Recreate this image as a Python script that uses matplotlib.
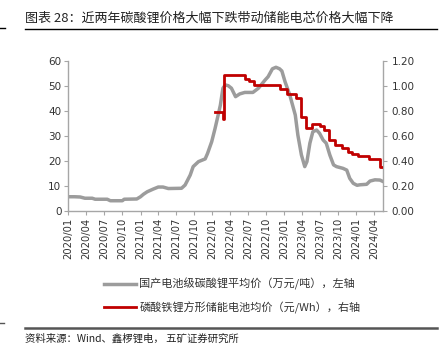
import matplotlib
matplotlib.use("Agg")
import matplotlib.pyplot as plt
from matplotlib.lines import Line2D
import pandas as pd

plt.rcParams['font.family'] = ['Noto Sans CJK SC', 'DejaVu Sans']

# 国产电池级碳酸锂平均价（万元/吨）
li_dates = ['2020-01-01', '2020-02-01', '2020-03-01', '2020-03-25', '2020-05-01', '2020-05-16',
            '2020-07-16', '2020-08-01', '2020-10-01', '2020-10-10', '2020-12-13', '2021-01-01',
            '2021-01-16', '2021-02-04', '2021-03-07', '2021-04-01', '2021-04-25', '2021-05-22',
            '2021-07-28', '2021-08-15', '2021-09-10', '2021-09-25', '2021-10-22', '2021-11-25',
            '2021-12-07', '2021-12-28', '2022-01-14', '2022-01-28', '2022-02-10', '2022-02-23',
            '2022-03-07', '2022-03-22', '2022-04-07', '2022-04-28', '2022-05-19', '2022-06-14',
            '2022-07-25', '2022-08-22', '2022-09-25', '2022-10-10', '2022-11-01', '2022-11-19',
            '2022-12-07', '2022-12-19', '2023-01-04', '2023-01-28', '2023-02-25', '2023-03-10',
            '2023-03-28', '2023-04-14', '2023-04-25', '2023-05-10', '2023-05-25', '2023-06-13',
            '2023-06-28', '2023-07-16', '2023-08-01', '2023-08-19', '2023-09-07', '2023-09-22',
            '2023-10-25', '2023-11-13', '2023-11-28', '2023-12-16', '2024-01-04', '2024-01-19',
            '2024-02-22', '2024-03-10', '2024-04-04', '2024-04-29', '2024-05-10']
li_price = [5.6, 5.6, 5.5, 5.0, 5.0, 4.6,
            4.6, 4.0, 4.0, 4.6, 4.7, 5.6,
            6.6, 7.6, 8.7, 9.5, 9.5, 8.9,
            9.0, 10.3, 14.3, 17.7, 19.7, 20.8,
            23.0, 27.7, 33.0, 37.8, 42.4, 49.2,
            50.5, 50.2, 49.2, 45.8, 46.9, 47.5,
            47.5, 49.2, 52.5, 53.8, 57.0, 57.6,
            57.0, 56.1, 51.8, 46.5, 38.4, 30.4,
            22.4, 17.7, 19.7, 27.1, 31.7, 32.4,
            31.1, 28.4, 27.1, 22.4, 18.4, 17.7,
            17.0, 16.3, 13.0, 11.0, 10.2, 10.4,
            10.6, 11.9, 12.4, 12.3, 11.9]

# 磷酸铁锂方形储能电池均价（元/Wh）
cell_dates = ['2022-01-13', '2022-02-23', '2022-03-01', '2022-06-13', '2022-07-04', '2022-08-01',
              '2022-12-07', '2023-01-16', '2023-03-02', '2023-03-25', '2023-04-19', '2023-05-23',
              '2023-07-01', '2023-07-19', '2023-08-13', '2023-09-16', '2023-10-19', '2023-11-19',
              '2023-12-10', '2024-01-07', '2024-03-04', '2024-05-01', '2024-05-10']
cell_price = [0.79, 0.74, 1.09, 1.06, 1.04, 1.01,
              0.975, 0.935, 0.903, 0.755, 0.667, 0.694,
              0.683, 0.648, 0.568, 0.528, 0.506, 0.474,
              0.453, 0.439, 0.415, 0.353, 0.353]

tick_dates = pd.date_range('2020-01-01', '2024-04-01', freq='QS')

fig = plt.figure(figsize=(4.41, 3.63), dpi=100)
ax = fig.add_axes([0.155, 0.4196, 0.714, 0.4115])
ax2 = ax.twinx()

gray = '#9c9c9c'
red = '#C00000'
l1, = ax.plot(pd.to_datetime(li_dates), li_price, color=gray, lw=2.5, zorder=2)
l2, = ax2.plot(pd.to_datetime(cell_dates), cell_price, color=red, lw=2.0,
               drawstyle='steps-post', zorder=3)

ax.set_ylim(0, 60)
ax.set_yticks(range(0, 61, 10))
ax2.set_ylim(0, 1.2)
ax2.set_yticks([0.0, 0.2, 0.4, 0.6, 0.8, 1.0, 1.2])
ax2.set_yticklabels(['%.2f' % v for v in ax2.get_yticks()])

ax.set_xlim(pd.Timestamp('2020-01-01'), pd.Timestamp('2024-05-16'))
ax.set_xticks(tick_dates)
ax.set_xticklabels([d.strftime('%Y/%m') for d in tick_dates], rotation=90)
ax.xaxis.set_minor_locator(plt.NullLocator())

spine_col = '#a6a6a6'
for a in (ax, ax2):
    a.spines['top'].set_visible(False)
    for s in ('left', 'right', 'bottom'):
        a.spines[s].set_color(spine_col)
        a.spines[s].set_linewidth(1.0)
ax.spines['right'].set_visible(False)
ax2.spines['left'].set_visible(False)
ax2.spines['bottom'].set_visible(False)
ax.tick_params(axis='both', labelsize=7.5, colors=spine_col, labelcolor='#333333',
               length=3, width=0.8, pad=2)
ax.tick_params(axis='x', labelsize=7.2)
ax2.tick_params(axis='y', labelsize=7.5, colors=spine_col, labelcolor='#333333',
                length=3, width=0.8, pad=3)
for lab in ax.get_yticklabels() + ax.get_xticklabels() + ax2.get_yticklabels():
    lab.set_family('DejaVu Sans')

fig.legend([l1, l2], ['国产电池级碳酸锂平均价（万元/吨），左轴',
                      '磷酸铁锂方形储能电池均价（元/Wh），右轴'],
           loc='upper left', bbox_to_anchor=(0.213, 0.262), frameon=False,
           fontsize=8, handlelength=2.9, handletextpad=0.3, labelspacing=1.0,
           labelcolor='#333333')

fig.text(0.057, 0.951, '图表 28：近两年碳酸锂价格大幅下跌带动储能电芯价格大幅下降',
         fontsize=9.4, va='center', ha='left', color='#222222')
fig.add_artist(Line2D([0.057, 0.991], [0.919, 0.919], color='black', lw=1.0))
fig.add_artist(Line2D([0.0, 0.012], [0.922, 0.922], color='black', lw=1.0))
fig.add_artist(Line2D([0.057, 0.991], [0.097, 0.097], color='#555555', lw=1.8))
fig.add_artist(Line2D([0.0, 0.008], [0.11, 0.11], color='#555555', lw=1.0))
fig.text(0.057, 0.068, '资料来源：Wind、鑫椤锂电， 五矿证券研究所',
         fontsize=7.5, va='center', ha='left', color='#222222')

fig.savefig('out.png', dpi=100)
